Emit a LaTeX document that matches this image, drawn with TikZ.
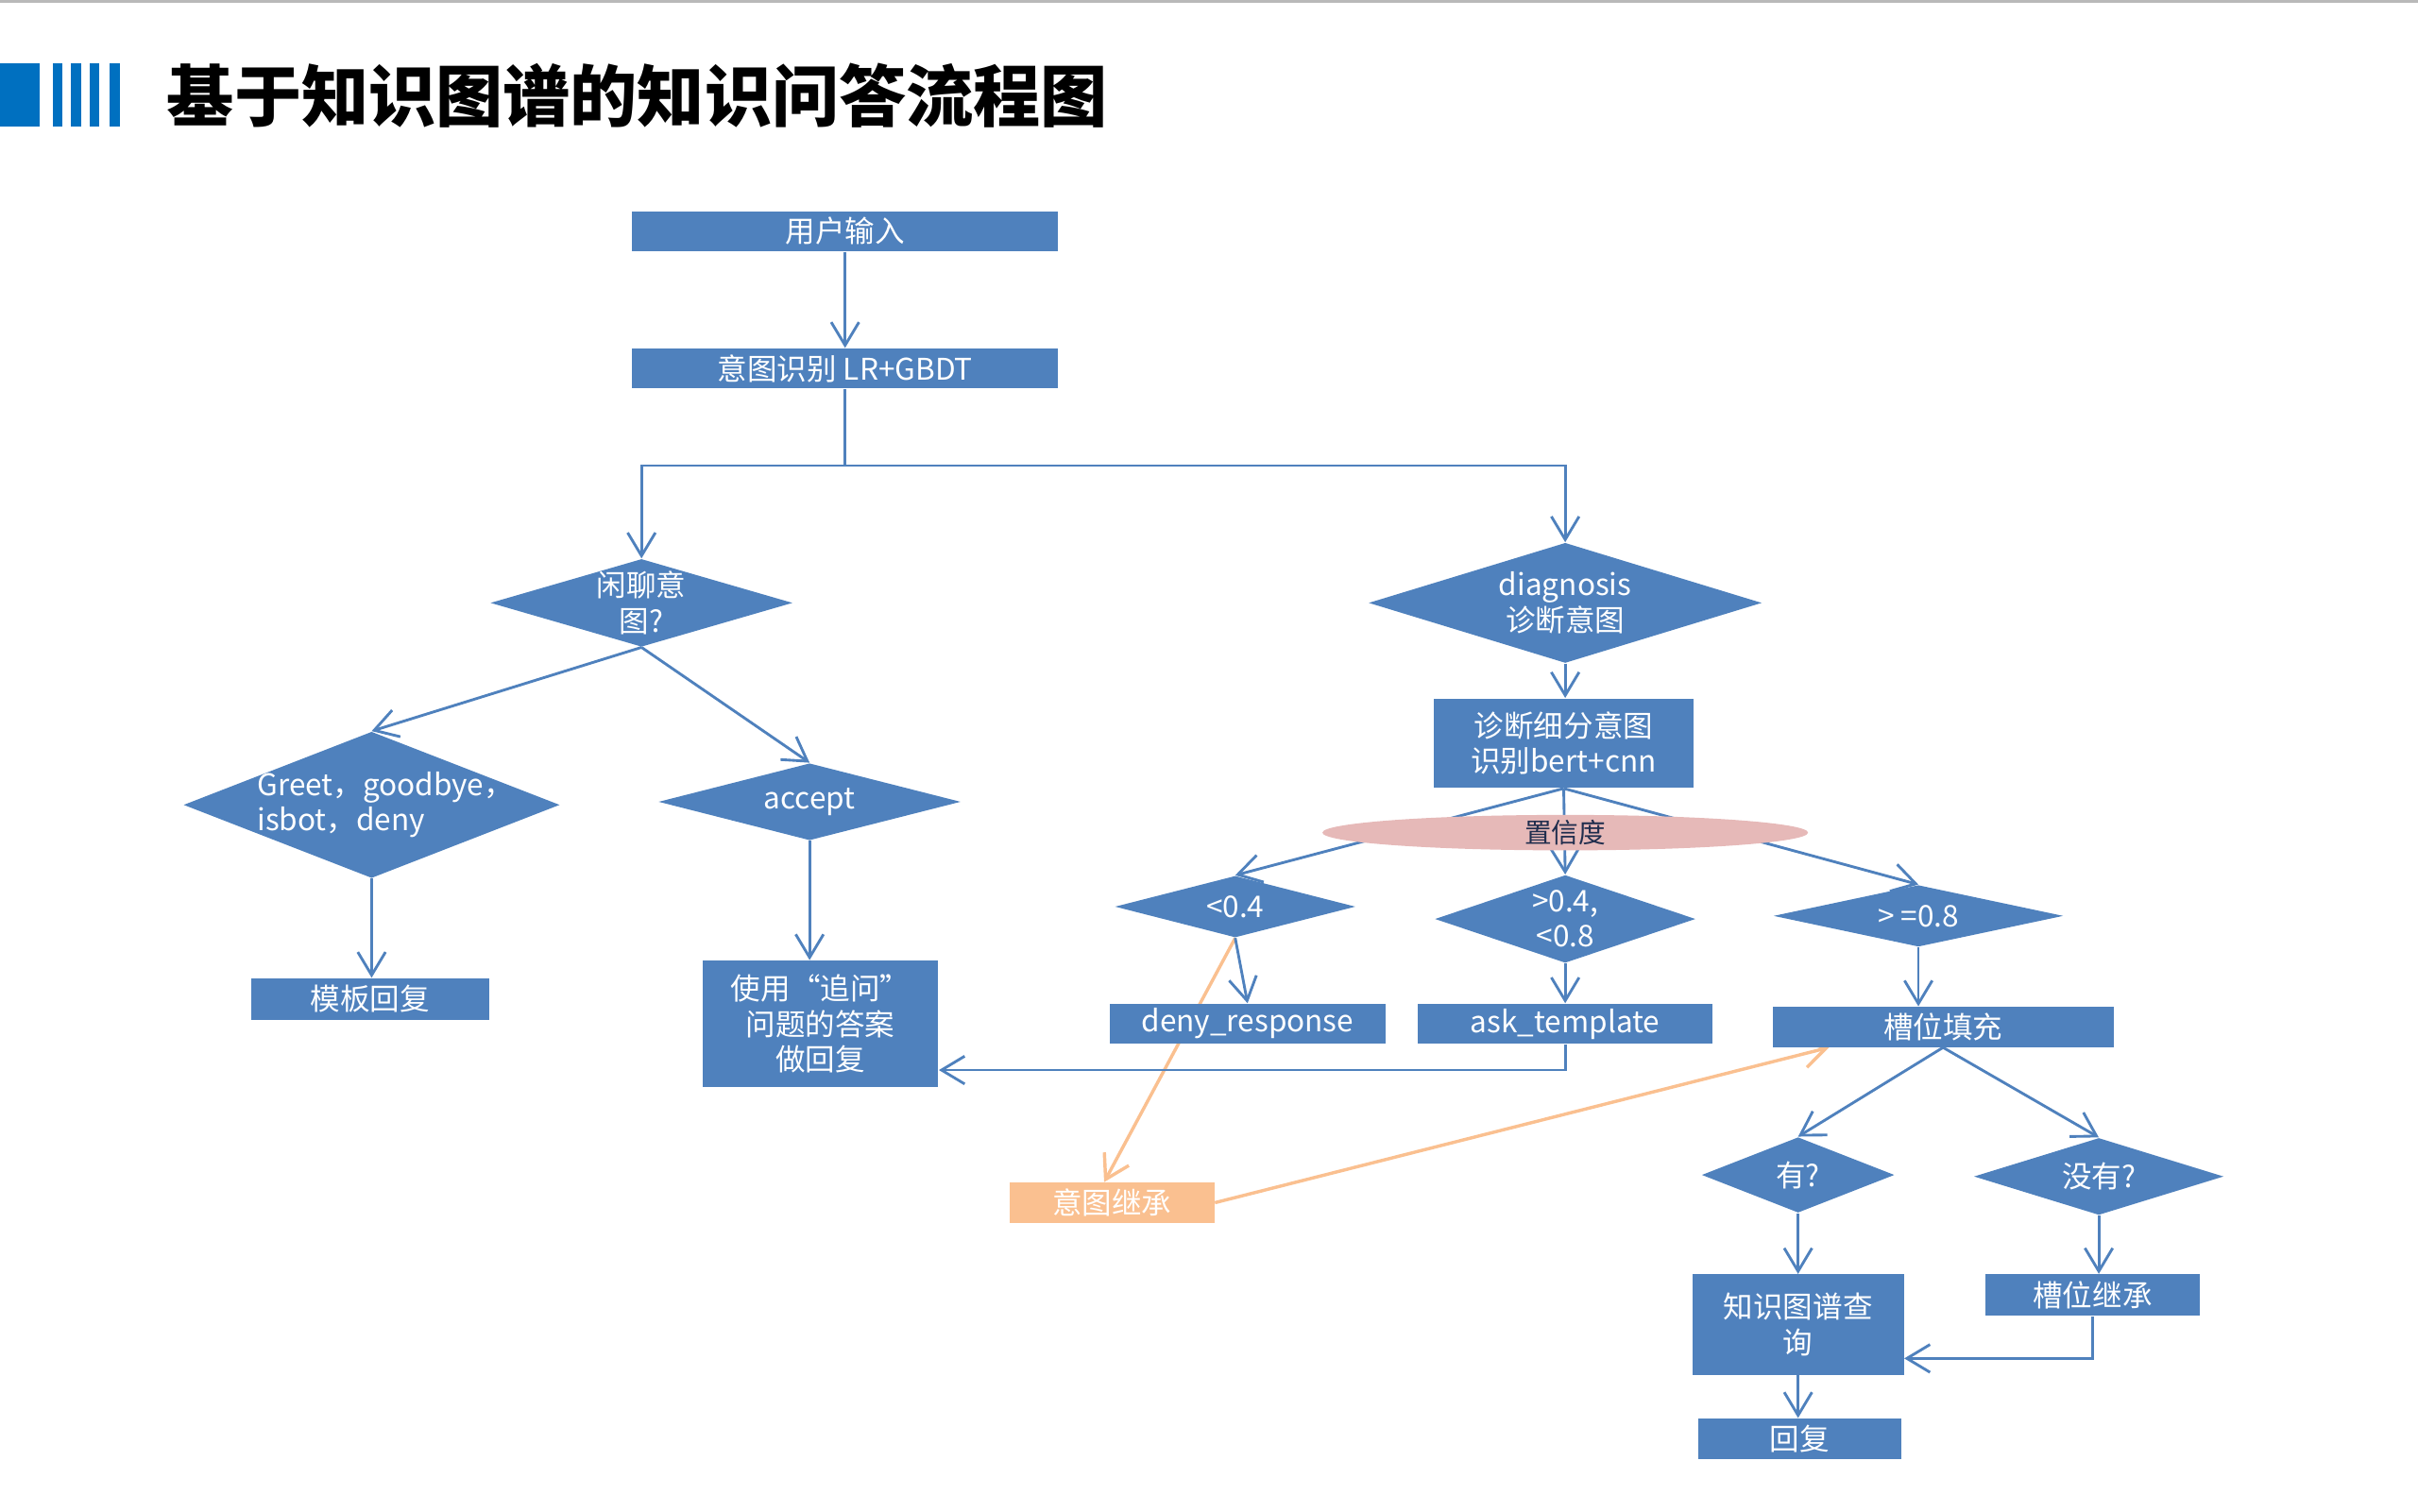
\documentclass[tikz,border=0pt]{standalone}
\usepackage{fontspec}
\setmainfont{Noto Sans CJK SC}
\usetikzlibrary{shapes.geometric,arrows.meta,backgrounds}
\definecolor{boxblue}{HTML}{4F81BD}
\definecolor{barblue}{HTML}{0070C0}
\definecolor{inhorange}{HTML}{FAC090}
\definecolor{confpink}{HTML}{E6B9B8}
\definecolor{conftext}{HTML}{1F2D4D}
\begin{document}
\begin{tikzpicture}[x=0.02cm,y=-0.02cm,
  box/.style={fill=boxblue,text=white,inner sep=0pt,align=center,font=\fontsize{11}{13}\selectfont},
  dia/.style={diamond,fill=boxblue,inner sep=0pt},
  lab/.style={text=white,align=center,font=\fontsize{11}{13}\selectfont},
  arr/.style={draw=boxblue,line width=1pt,-{Straight Barb[length=3mm,width=3.6mm]}},
  oarr/.style={arr,draw=inhorange}]
\useasboundingbox (0,0) rectangle (1568,980);
\fill[gray!55] (0,0) rectangle (1568,2);
% title
\fill[barblue] (0,41) rectangle (26,82);
\foreach \x in {34,46,58,71} \fill[barblue] (\x,41) rectangle ++(6.5,41);
\node[anchor=west,inner sep=0pt,font=\bfseries\fontsize{24.8}{30}\selectfont] (title) at (108,62) {基于知识图谱的知识问答流程图};
% main chain
\node[box,minimum width=5.52cm,minimum height=0.52cm] (input) at (548,150) {用户输入};
\node[box,minimum width=5.52cm,minimum height=0.52cm] (intent) at (548,239) {意图识别 LR+GBDT};
\coordinate (split) at (548,302);
\node[dia,minimum width=3.92cm,minimum height=1.14cm,label={[lab]center:{闲聊意\\图?}}] (chat) at (416,391) {};
\node[dia,minimum width=5.1cm,minimum height=1.56cm,label={[lab]center:{diagnosis\\诊断意图}}] (diag) at (1015,391) {};
% chit-chat branch
\node[dia,minimum width=4.88cm,minimum height=1.9cm,label={[lab,align=left,xshift=0.18cm]center:{Greet，goodbye，\\isbot，deny}}] (greet) at (241,522) {};
\node[dia,minimum width=3.92cm,minimum height=1cm,label={[lab]center:accept}] (accept) at (525,520) {};
\node[box,minimum width=3.08cm,minimum height=0.54cm] (tmpl) at (240,648) {模板回复};
\node[box,minimum width=3.06cm,minimum height=1.64cm] (follow) at (532,664) {使用“追问”\\问题的答案\\做回复};
% diagnosis branch
\node[box,minimum width=3.36cm,minimum height=1.16cm] (fine) at (1014,482) {诊断细分意图\\识别bert+cnn};
\node[dia,minimum width=3.12cm,minimum height=0.8cm,label={[lab]center:{<0.4}}] (low) at (801,588) {};
\node[dia,minimum width=3.38cm,minimum height=1.14cm,label={[lab]center:{>0.4,\\<0.8}}] (mid) at (1015,596) {};
\node[dia,minimum width=3.76cm,minimum height=0.8cm,label={[lab]center:{> =0.8}}] (high) at (1244,594) {};
\node[box,minimum width=3.58cm,minimum height=0.52cm] (deny) at (809,664) {deny\_response};
\node[box,minimum width=3.82cm,minimum height=0.52cm] (ask) at (1015,664) {ask\_template};
\node[box,minimum width=4.42cm,minimum height=0.52cm] (slot) at (1260,666) {槽位填充};
\node[box,fill=inhorange,minimum width=2.66cm,minimum height=0.52cm] (inherit) at (721,780) {意图继承};
\node[dia,minimum width=2.5cm,minimum height=0.98cm,label={[lab]center:有?}] (yes) at (1166,762) {};
\node[dia,minimum width=3.24cm,minimum height=1cm,label={[lab]center:没有?}] (no) at (1361,763) {};
\node[box,minimum width=2.74cm,minimum height=1.3cm] (kg) at (1166,859) {知识图谱查\\询};
\node[box,minimum width=2.78cm,minimum height=0.54cm] (slotinh) at (1357,840) {槽位继承};
\node[box,minimum width=2.64cm,minimum height=0.52cm] (reply) at (1167,933) {回复};
% connectors
\draw[arr] (input) -- (intent);
\draw[arr] (intent.south) -- (split) -| (chat.north);
\draw[arr] (split) -| (diag.north);
\draw[arr] (chat.south) -- (greet.north);
\draw[arr] (chat.south) -- (accept.north);
\draw[arr] (greet.south) -- (greet.south |- tmpl.north);
\draw[arr] (accept.south) -- (accept.south |- follow.north);
\draw[arr] (diag.south) -- (diag.south |- fine.north);
\draw[arr] (fine.south) -- (low.north);
\draw[arr] (fine.south) -- (mid.north);
\draw[arr] (fine.south) -- (high.north);
\draw[arr] (low.south) -- (deny.north);
\draw[arr] (mid.south) -- (mid.south |- ask.north);
\draw[arr] (high.south) -- (high.south |- slot.north);
\draw[arr] (ask.south) |- ([yshift=-0.6cm]follow.east);
\draw[arr] (slot.south) -- (yes.north);
\draw[arr] (slot.south) -- (no.north);
\draw[arr] (yes.south) -- (yes.south |- kg.north);
\draw[arr] (no.south) -- (no.south |- slotinh.north);
\draw[arr] (slotinh.south) |- ([yshift=-0.44cm]kg.east);
\draw[arr] (kg.south) -- (kg.south |- reply.north);
\scope[on background layer] % intent inheritance
\draw[oarr,line width=1.2pt] (low.south) -- ([xshift=-0.1cm]inherit.north);
\draw[oarr,line width=1.2pt] (inherit.east) -- ([xshift=-1.48cm]slot.south);
\endscope
% confidence, over the lines
\node[ellipse,fill=confpink,inner sep=0pt,minimum width=6.3cm,minimum height=0.46cm,
  label={[text=conftext,font=\fontsize{10}{12}\selectfont]center:置信度}] (conf) at (1015,540) {};
\end{tikzpicture}
\end{document}
